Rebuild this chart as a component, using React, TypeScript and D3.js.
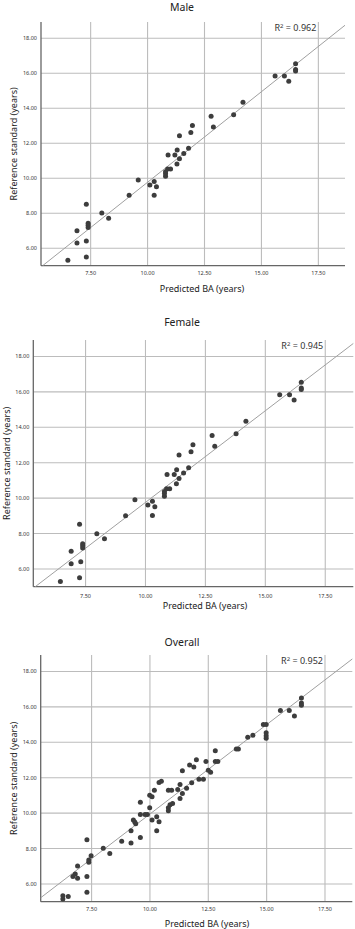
import React from 'react';
import * as d3 from 'd3';

// Predicted BA (x) vs reference standard (y)
const maleX = [6.50, 7.31, 6.90, 7.31, 6.90, 7.39, 7.39, 7.39, 7.31, 7.99, 8.29, 9.19, 9.59, 10.10, 10.29, 10.39, 10.29, 10.79, 10.79, 10.79, 10.88, 11.01, 10.90, 11.29, 11.20, 11.30, 11.40, 11.59, 11.80, 11.40, 11.90, 11.97, 12.79, 12.89, 13.78, 14.19, 15.60, 16.01, 16.20, 16.50, 16.50, 16.50];
const maleY = [5.31, 5.50, 6.30, 6.41, 7.00, 7.42, 7.31, 7.19, 8.51, 8.01, 7.71, 9.02, 9.90, 9.61, 9.82, 9.51, 9.02, 10.11, 10.26, 10.37, 10.53, 10.53, 11.33, 10.81, 11.33, 11.61, 11.11, 11.42, 11.71, 12.43, 12.62, 13.02, 13.54, 12.93, 13.63, 14.34, 15.84, 15.84, 15.54, 16.54, 16.22, 16.13];

const femaleX = [6.45, 7.25, 6.90, 7.30, 6.90, 7.38, 7.38, 7.38, 7.25, 7.97, 8.29, 9.17, 9.56, 10.10, 10.29, 10.39, 10.29, 10.79, 10.79, 10.79, 10.88, 11.01, 10.90, 11.29, 11.20, 11.30, 11.40, 11.59, 11.80, 11.40, 11.90, 11.98, 12.78, 12.89, 13.78, 14.19, 15.60, 16.01, 16.20, 16.50, 16.50, 16.50];
const femaleY = [5.30, 5.51, 6.30, 6.41, 7.00, 7.42, 7.31, 7.19, 8.52, 7.99, 7.71, 9.01, 9.91, 9.61, 9.82, 9.51, 9.02, 10.11, 10.26, 10.37, 10.53, 10.53, 11.33, 10.81, 11.33, 11.61, 11.11, 11.42, 11.71, 12.43, 12.62, 13.02, 13.54, 12.93, 13.63, 14.34, 15.84, 15.84, 15.54, 16.54, 16.22, 16.13];

const overallX = [6.27, 6.27, 6.50, 7.30, 6.70, 6.80, 6.90, 7.30, 6.90, 7.38, 7.38, 7.48, 7.30, 8.00, 8.28, 8.79, 9.19, 9.19, 9.59, 9.29, 9.35, 9.39, 9.59, 9.79, 9.89, 9.59, 9.99, 10.09, 10.29, 10.39, 10.29, 9.99, 10.09, 10.19, 10.39, 10.49, 10.79, 10.79, 10.86, 10.97, 10.79, 10.93, 11.29, 11.29, 11.39, 11.57, 11.79, 11.39, 11.19, 11.70, 11.88, 12.10, 12.29, 12.50, 12.60, 11.99, 12.40, 12.80, 12.80, 12.91, 13.70, 13.79, 14.19, 14.41, 14.86, 14.98, 14.98, 14.98, 14.98, 15.59, 15.97, 16.19, 16.49, 16.49, 16.49];
const overallY = [5.34, 5.15, 5.30, 5.53, 6.42, 6.56, 6.33, 6.42, 7.01, 7.23, 7.36, 7.60, 8.50, 8.02, 7.72, 8.41, 8.32, 9.01, 8.62, 9.61, 9.50, 9.40, 9.93, 9.93, 9.93, 10.62, 10.30, 9.61, 9.80, 9.51, 9.01, 11.01, 10.92, 11.30, 11.73, 11.80, 10.30, 10.13, 10.47, 10.55, 11.30, 11.30, 10.83, 11.62, 11.11, 11.41, 11.71, 12.40, 11.33, 12.72, 12.61, 11.91, 11.91, 12.42, 12.31, 13.02, 12.92, 13.52, 12.91, 12.91, 13.62, 13.62, 14.29, 14.40, 15.00, 15.00, 14.54, 14.37, 14.23, 15.79, 15.79, 15.49, 16.50, 16.22, 16.09];

const xTicks = [7.5, 10, 12.5, 15, 17.5];
const yTicks = [6, 8, 10, 12, 14, 16, 18];

const titles = ['Male', 'Female', 'Overall'];
const r2Labels = ['0.962', '0.945', '0.952'];
// fit line: y = intercept + slope * x
const fitSlopes = [1.035, 1.035, 1.01];
const fitIntercepts = [-0.58, -0.59, -0.15];

const FONT = '"Noto Sans", "Open Sans", sans-serif';

type Box = { left: number; right: number; top: number; bottom: number; titleY: number; xTitleX: number; xTitleY: number; yTitleX: number; tickY: number };

const boxes: Box[] = [
  { left: 41, right: 345, top: 22, bottom: 265.7, titleY: 11, xTitleX: 202, xTitleY: 292, yTitleX: 14, tickY: 275 },
  { left: 33.3, right: 353.3, top: 340, bottom: 586.7, titleY: 326, xTitleX: 205, xTitleY: 609, yTitleX: 7, tickY: 597.5 },
  { left: 40.7, right: 352.3, top: 655, bottom: 901.7, titleY: 646, xTitleX: 207, xTitleY: 927, yTitleX: 14, tickY: 911 },
];

const Panel = ({ i, xs, ys }: { i: number; xs: number[]; ys: number[] }) => {
  const b = boxes[i];
  const x = d3.scaleLinear().domain([5.32, 18.67]).range([b.left, b.right]);
  const y = d3.scaleLinear().domain([5.0, 18.93]).range([b.bottom, b.top]);
  const fmt = d3.format('.2f');

  const m = fitSlopes[i];
  const c = fitIntercepts[i];
  const [x0d, x1d] = x.domain();
  const [y0d, y1d] = y.domain();
  const xa = Math.max(x0d, (y0d - c) / m);
  const xb = Math.min(x1d, (y1d - c) / m);
  const fit = d3.line<number>().x(v => x(v)).y(v => y(c + m * v));

  const midY = (b.top + b.bottom) / 2;

  return (
    <g>
      <text x={182} y={b.titleY} textAnchor="middle" fontSize={10.5} fill="#222" fontFamily={FONT}>{titles[i]}</text>

      {/* grid */}
      {yTicks.map(t => (
        <line key={'gy' + t} x1={b.left} x2={b.right} y1={y(t)} y2={y(t)} stroke="#bcbcbc" strokeWidth={1.1} />
      ))}
      {xTicks.map(t => (
        <line key={'gx' + t} x1={x(t)} x2={x(t)} y1={b.top} y2={b.bottom} stroke="#bcbcbc" strokeWidth={1.1} />
      ))}

      {/* axes */}
      <line x1={b.left} x2={b.left} y1={b.top} y2={b.bottom} stroke="#666" strokeWidth={1.3} />
      <line x1={b.left} x2={b.right} y1={b.bottom} y2={b.bottom} stroke="#666" strokeWidth={1.3} />

      {yTicks.map(t => (
        <text key={'ty' + t} x={b.left - 4} y={y(t) + 2} textAnchor="end" fontSize={5.5} fill="#333" fontFamily={FONT}>{fmt(t)}</text>
      ))}
      {xTicks.map(t => (
        <text key={'tx' + t} x={x(t)} y={b.tickY} textAnchor="middle" fontSize={5.5} fill="#333" fontFamily={FONT}>{fmt(t)}</text>
      ))}

      <path d={fit([xa, xb]) || ''} stroke="#a0a0a0" strokeWidth={1} fill="none" />

      {xs.map((v, k) => (
        <circle key={k} cx={x(v)} cy={y(ys[k])} r={2.5} fill="#3d3d3d" />
      ))}

      <text x={x(17.5) - 2} y={y(18) - 7} textAnchor="end" fontSize={9} fill="#333" fontFamily={FONT}>
        R<tspan dy={-3} fontSize={6}>2</tspan><tspan dy={3}>{' = ' + r2Labels[i]}</tspan>
      </text>

      <text x={b.xTitleX} y={b.xTitleY} textAnchor="middle" fontSize={9} fill="#222" fontFamily={FONT}>Predicted BA (years)</text>
      <text transform={`translate(${b.yTitleX},${midY}) rotate(-90)`} textAnchor="middle" dy={3} fontSize={9} fill="#222" fontFamily={FONT}>Reference standard (years)</text>
    </g>
  );
};

export default function App() {
  return (
    <div style={{ position: 'absolute', left: 0, top: 0, width: 355, height: 929, background: '#fff' }}>
      <svg width={355} height={929}>
        <rect width={355} height={929} fill="#fff" />
        <Panel i={0} xs={maleX} ys={maleY} />
        <Panel i={1} xs={femaleX} ys={femaleY} />
        <Panel i={2} xs={overallX} ys={overallY} />
      </svg>
    </div>
  );
}
